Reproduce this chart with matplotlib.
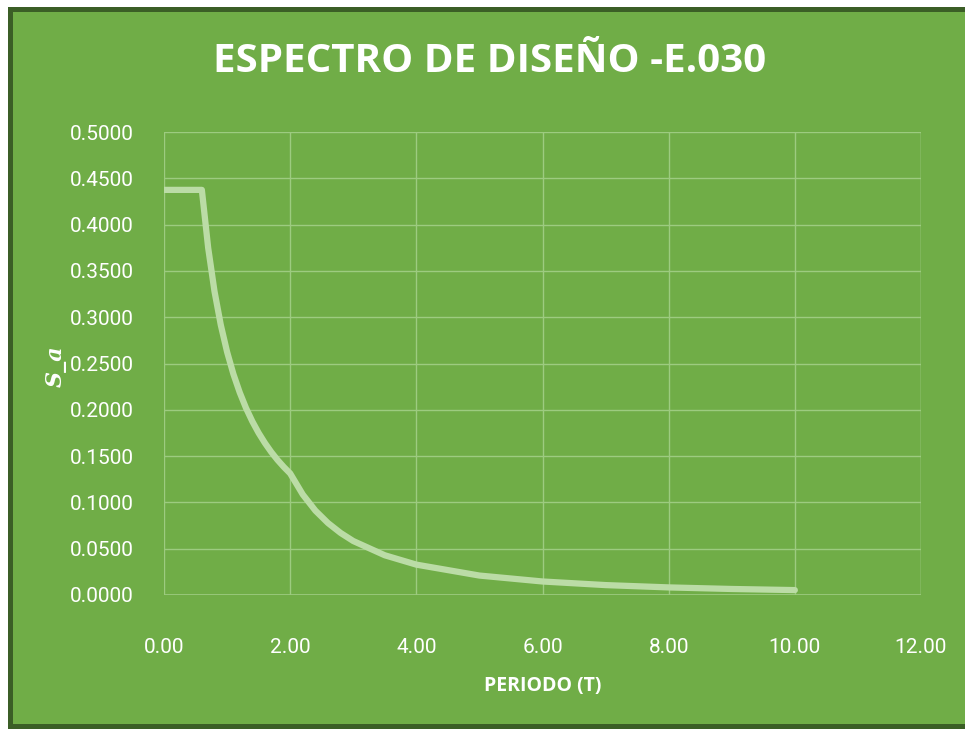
import matplotlib
matplotlib.use("Agg")
import matplotlib.pyplot as plt
from matplotlib.patches import Rectangle

# Design spectrum values (period T in s, spectral acceleration Sa)
periodo = [0.0, 0.2, 0.4, 0.6, 0.7, 0.8, 0.9, 1.0, 1.1, 1.2, 1.3, 1.4, 1.5,
           1.6, 1.7, 1.8, 1.9, 2.0, 2.2, 2.4, 2.6, 2.8, 3.0, 3.5, 4.0, 5.0,
           6.0, 7.0, 8.0, 9.0, 10.0]
sa = [0.4375, 0.4375, 0.4375, 0.4375, 0.3750, 0.3281, 0.2917, 0.2625,
      0.2386, 0.2188, 0.2019, 0.1875, 0.1750, 0.1641, 0.1544, 0.1458,
      0.1382, 0.1313, 0.1085, 0.0911, 0.0777, 0.0670, 0.0583, 0.0429,
      0.0328, 0.0210, 0.0146, 0.0107, 0.0082, 0.0065, 0.0053]

x_ticks = [0, 2, 4, 6, 8, 10, 12]
y_ticks = [0.0, 0.05, 0.10, 0.15, 0.20, 0.25, 0.30, 0.35, 0.40, 0.45, 0.50]

BG = "#70AD47"
BORDER = "#3B5E26"
GRID = "#9DCB80"
LINE = "#BBDCA6"
TEXT = "white"

W, H = 965, 731
fig = plt.figure(figsize=(W / 100, H / 100), dpi=100, facecolor="white")

# chart frame: dark green border around the green panel
fig.patches.append(Rectangle((8 / W, 1 - 729 / H), (W - 8 + 20) / W, (729 - 7) / H,
                             transform=fig.transFigure, facecolor=BORDER,
                             edgecolor="none", zorder=-2))
fig.patches.append(Rectangle((13 / W, 1 - 724 / H), (W - 13 + 20) / W, (724 - 12) / H,
                             transform=fig.transFigure, facecolor=BG,
                             edgecolor="none", zorder=-1))

ax = fig.add_axes([164 / W, 1 - 595 / H, (921 - 164) / W, (595 - 132) / H])
ax.set_zorder(2)
ax.patch.set_alpha(0)

ax.plot(periodo, sa, color=LINE, lw=4.5, solid_capstyle="round",
        solid_joinstyle="round", zorder=3)

ax.set_xlim(0, 12)
ax.set_ylim(0, 0.5)
ax.set_xticks(x_ticks)
ax.set_yticks(y_ticks)
ax.set_xticklabels([f"{v:.2f}" for v in x_ticks])
ax.set_yticklabels([f"{v:.4f}" for v in y_ticks])

ax.grid(True, color=GRID, lw=1.0)
ax.set_axisbelow(True)
for s in ax.spines.values():
    s.set_visible(False)
ax.axvline(12, color=GRID, lw=1.0, zorder=1)
ax.axhline(0, color=GRID, lw=1.2, zorder=1)

ax.tick_params(axis="both", length=0, colors=TEXT)
ax.tick_params(axis="y", pad=22)
ax.tick_params(axis="x", pad=31)
for lab in ax.get_xticklabels() + ax.get_yticklabels():
    lab.set_fontfamily(["Roboto", "DejaVu Sans"])
    lab.set_fontsize(15)
    lab.set_color(TEXT)

fig.text(490 / W, 1 - 62 / H, "ESPECTRO DE DISEÑO -E.030", ha="center", va="center",
         color=TEXT, fontsize=29, fontweight="bold",
         family=["Open Sans", "DejaVu Sans"])
fig.text(543 / W, 1 - 686 / H, "PERIODO (T)", ha="center", va="center",
         color=TEXT, fontsize=14, fontweight="bold",
         family=["Open Sans", "DejaVu Sans"])
fig.text(56 / W, 1 - 366 / H, "S_a", ha="center", va="center", rotation=90,
         color=TEXT, fontsize=16, fontweight="bold", fontstyle="italic",
         family=["DejaVu Serif"])

fig.savefig("out.png", dpi=100, facecolor="white")
